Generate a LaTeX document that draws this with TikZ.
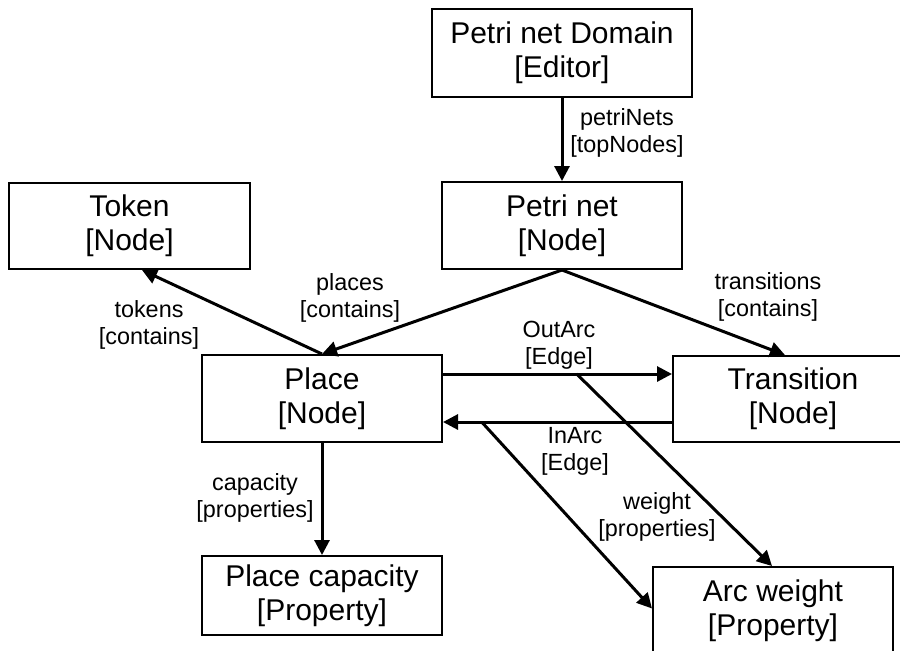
\documentclass[tikz,border=0pt]{standalone}
\usepackage{fontspec}
\setmainfont{Liberation Sans}
\usetikzlibrary{arrows.meta,calc}
\begin{document}
\begin{tikzpicture}[x=0.5pt,y=-0.5pt,
  box/.style={draw,line width=1pt,minimum width=120pt,minimum height=43.5pt,
    inner sep=0pt,align=center,font=\fontsize{15}{17}\selectfont},
  lbl/.style={align=center,inner sep=0pt,font=\fontsize{11.7}{13.6}\selectfont},
  arr/.style={line width=1.5pt,-{Triangle[length=7.5pt,width=7.5pt]}}]
\useasboundingbox (0,0) rectangle (900,650);
\clip (0,0) rectangle (900,650);

% classes
\node[box,minimum width=130pt,minimum height=44pt] (dom) at (562,53) {Petri net Domain\\{[Editor]}};
\node[box] (pn) at (562,225.5) {Petri net\\{[Node]}};
\node[box,minimum width=120.5pt,minimum height=43pt] (tok) at (129.5,226) {Token\\{[Node]}};
\node[box] (place) at (322,398.5) {Place\\{[Node]}};
\node[box,minimum height=43pt] (trans) at (793,399) {Transition\\{[Node]}};
\node[box,minimum height=39.5pt] (pcap) at (322,595.5) {Place capacity\\{[Property]}};
\node[box] (arcw) at (773,610.5) {Arc weight\\{[Property]}};

% containment and property links
\draw[arr] (dom.south) -- (pn.north);
\draw[arr] (pn.south) -- (place.north);
\draw[arr] (place.north) -- ([xshift=6.25pt]tok.south);
\draw[arr] (pn.south) -- ([xshift=-4pt]trans.north);
\draw[arr] (place.south) -- (pcap.north);

% arcs between place and transition
\coordinate (oaS) at ([yshift=12.25pt]place.east);
\coordinate (oaE) at (oaS -| trans.west);
\draw[arr] (oaS) -- (oaE);
\coordinate (iaS) at ([yshift=-11.5pt]trans.west);
\coordinate (iaE) at (iaS -| place.east);
\draw[arr] (iaS) -- (iaE);

% arc weights
\coordinate (wa) at ($(oaS)!0.584!(oaE)$);
\draw[arr] (wa) -- ([xshift=-0.5pt]arcw.north);
\coordinate (wb) at ($(iaE)!0.169!(iaS)$);
\draw[arr] (wb) -- ([yshift=1pt]arcw.west);

% link labels
\node[lbl] (lpn) at (627,133) {petriNets\\{[topNodes]}};
\node[lbl] (ltok) at (149,325) {tokens\\{[contains]}};
\node[lbl] (lpl) at (350,298) {places\\{[contains]}};
\node[lbl] (ltr) at (768,297) {transitions\\{[contains]}};
\node[lbl] (lout) at (559,345) {OutArc\\{[Edge]}};
\node[lbl] (lin) at (575,451) {InArc\\{[Edge]}};
\node[lbl] (lw) at (657,517) {weight\\{[properties]}};
\node[lbl] (lcap) at (255,498) {capacity\\{[properties]}};
\end{tikzpicture}
\end{document}
